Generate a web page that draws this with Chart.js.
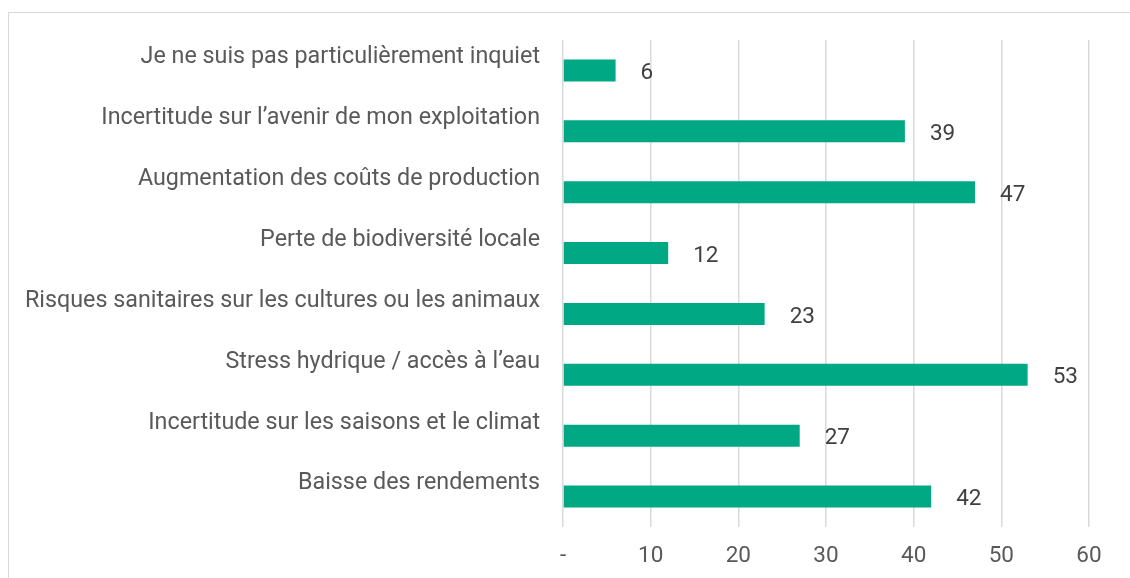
<!DOCTYPE html>
<html>
<head>
<meta charset="utf-8">
<script src="https://cdn.jsdelivr.net/npm/chart.js@4.4.1/dist/chart.umd.min.js"></script>
<style>
  html, body { margin: 0; padding: 0; background: #fff; }
  #wrap { position: relative; width: 1130px; height: 578px; overflow: hidden; }
  #frame { position: absolute; left: 8px; top: 12px; width: 1200px; height: 700px; border: 1px solid #d9d9d9; box-sizing: border-box; }
  canvas { position: absolute; left: 0; top: 0; }
</style>
</head>
<body>
<div id="wrap">
  <div id="frame"></div>
  <canvas id="chart" width="1130" height="578"></canvas>
</div>
<script>
// Data
const categories = [
    'Je ne suis pas particulièrement inquiet',
    'Incertitude sur l’avenir de mon exploitation',
    'Augmentation des coûts de production',
    'Perte de biodiversité locale',
    'Risques sanitaires sur les cultures ou les animaux',
    'Stress hydrique / accès à l’eau',
    'Incertitude sur les saisons et le climat',
    'Baisse des rendements'
];
const values = [6, 39, 47, 12, 23, 53, 27, 42];
const xTicks = [0, 10, 20, 30, 40, 50, 60];
const xTickLabels = ['-', '10', '20', '30', '40', '50', '60'];

const fontFamily = 'Roboto, "Liberation Sans", sans-serif';
const fontSize = 22.5;

// Value labels at the end of each bar
const valueLabels = {
    id: 'valueLabels',
    afterDatasetsDraw(chart) {
        const ctx = chart.ctx;
        const meta = chart.getDatasetMeta(0);
        ctx.save();
        ctx.font = fontSize + 'px ' + fontFamily;
        ctx.fillStyle = '#404040';
        ctx.textAlign = 'left';
        ctx.textBaseline = 'middle';
        meta.data.forEach((bar, i) => {
            ctx.fillText(String(values[i]), bar.x + 25, bar.y + 3);
        });
        ctx.restore();
    }
};

const ctx = document.getElementById('chart').getContext('2d');
const chart = new Chart(ctx, {
    type: 'bar',
    data: {
        labels: categories,
        datasets: [{
            data: values,
            backgroundColor: '#00a884',
            borderWidth: 0,
            barPercentage: 0.72,
            categoryPercentage: 0.5
        }]
    },
    options: {
        indexAxis: 'y',
        responsive: false,
        animation: false,
        layout: {
            padding: { left: 0, right: 41, top: 40, bottom: 0 }
        },
        plugins: {
            legend: { display: false },
            tooltip: { enabled: false }
        },
        scales: {
            x: {
                min: 0,
                max: 60,
                afterBuildTicks: (scale) => {
                    scale.ticks = xTicks.map(v => ({ value: v }));
                },
                afterFit: (scale) => { scale.height = 51; },
                ticks: {
                    callback: (v) => xTickLabels[xTicks.indexOf(v)],
                    color: '#595959',
                    font: { family: fontFamily, size: fontSize },
                    padding: 16,
                    maxRotation: 0
                },
                grid: {
                    color: '#d9d9d9',
                    lineWidth: 1.5,
                    drawTicks: false
                },
                border: { display: false }
            },
            y: {
                afterFit: (scale) => { scale.width = 563; },
                ticks: {
                    color: '#595959',
                    font: { family: fontFamily, size: 23.3 },
                    padding: 23,
                    labelOffset: -13,
                    autoSkip: false
                },
                grid: { display: false, drawTicks: false },
                border: { display: false }
            }
        }
    },
    plugins: [valueLabels]
});
</script>
</body>
</html>
